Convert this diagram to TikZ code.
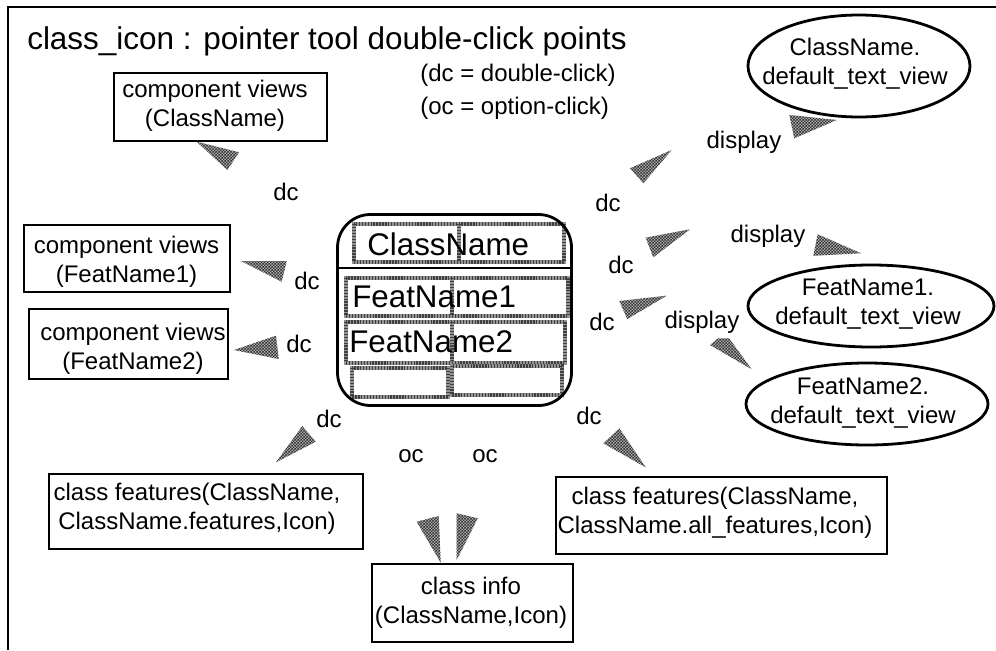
\documentclass[tikz,border=0pt]{standalone}
\usepackage{fontspec}
\setmainfont{Liberation Sans}
\usetikzlibrary{patterns,shapes.geometric}
\pgfdeclarepatternformonly{dither}{\pgfqpoint{0pt}{0pt}}{\pgfqpoint{2.2pt}{2.2pt}}{\pgfqpoint{2.2pt}{2.2pt}}{%
  \pgfpathrectangle{\pgfqpoint{0pt}{0pt}}{\pgfqpoint{1.1pt}{1.1pt}}%
  \pgfpathrectangle{\pgfqpoint{1.1pt}{1.1pt}}{\pgfqpoint{1.1pt}{1.1pt}}%
  \pgfusepath{fill}}
\tikzset{
  boxnode/.style={draw=black,line width=2.1pt,inner sep=0pt,outer sep=0pt},
  ovalnode/.style={draw=black,ellipse,line width=2.1pt,inner sep=0pt,outer sep=0pt},
  labeltext/.style={inner sep=0pt,font=\fontsize{18}{22}\selectfont,align=center},
  wedge/.style={preaction={fill=black!32},pattern=dither,pattern color=black!80,draw=none},
  dotbox/.style={draw=black!42,line width=2.3pt,postaction={draw=black!75,line width=2.3pt,dash pattern=on 1pt off 1.2pt}},
  icontext/.style={inner sep=0pt,anchor=west,font=\fontsize{23.5}{25}\selectfont},
}
\newcommand{\boxat}[5]{\node[boxnode,minimum width=#3*0.75pt-#1*0.75pt,minimum height=#4*0.75pt-#2*0.75pt] (#5) at ({(#1+#3)/2},{(#2+#4)/2}) {};}
\newcommand{\ovalat}[5]{\node[ovalnode,minimum width=#3*0.75pt-#1*0.75pt,minimum height=#4*0.75pt-#2*0.75pt] (#5) at ({(#1+#3)/2},{(#2+#4)/2}) {};}
\begin{document}
\begin{tikzpicture}[x=0.75pt,y=-0.75pt]
\useasboundingbox (0,0) rectangle (996,650);
\coordinate (fa) at (8,650); \coordinate (fb) at (8,7); \coordinate (fc) at (996,7);
\draw[line width=2.1pt] (fa) -- (fb) -- (fc);
\node[inner sep=0pt,anchor=west,font=\fontsize{23.6}{28}\selectfont] (title) at (27,41) {class\_icon : pointer tool double-click points};
\node[labeltext,anchor=west] (n1) at (420,75) {(dc = double-click)};
\node[labeltext,anchor=west] (n2) at (420,108) {(oc = option-click)};
\boxat{114}{73}{327}{141}{c0}
\boxat{24}{225}{230}{292}{c1}
\boxat{29}{309}{228}{379}{c2}
\boxat{49}{474}{363}{549}{f1}
\boxat{556}{477}{887}{554}{f2}
\boxat{372}{564}{573}{642}{info}
\ovalat{748}{15}{970}{117}{e0}
\ovalat{748}{265}{994}{347}{e1}
\ovalat{746}{363}{988}{445}{e2}
\node[labeltext] (c0t) at (215,105.5) {component views\\(ClassName)};
\node[labeltext] (c1t) at (126.5,261.5) {component views\\(FeatName1)};
\node[labeltext] (c2t) at (133,348.5) {component views\\(FeatName2)};
\node[labeltext] (f1t) at (197,508.5) {class features(ClassName,\\ClassName.features,Icon)};
\node[labeltext] (f2t) at (715,512.5) {class features(ClassName,\\ClassName.all\_features,Icon)};
\node[labeltext] (infot) at (471,602.5) {class info\\(ClassName,Icon)};
\node[labeltext] (e0t) at (855,64) {ClassName.\\default\_text\_view};
\node[labeltext] (e1t) at (868,304) {FeatName1.\\default\_text\_view};
\node[labeltext] (e2t) at (863,403) {FeatName2.\\default\_text\_view};
% icon
\draw[dotbox] (354,224) rectangle (564,262) (459,224) -- (459,262);
\draw[dotbox] (346,278) rectangle (568,316) (452,278) -- (452,316);
\draw[dotbox] (346,322) rectangle (565,363) (452,322) -- (452,363);
\draw[dotbox] (352,368) rectangle (448,397);
\draw[dotbox] (452,366) rectangle (562,395);
\node[draw=black,line width=2.1pt,rounded corners=33*0.75pt,minimum width=234*0.75pt,minimum height=191*0.75pt,inner sep=0pt,outer sep=0pt] (icon) at (454.5,310) {};
\coordinate (il) at (337,268); \coordinate (ir) at (572,268);
\draw[line width=2.1pt] (il) -- (ir);
\node[icontext] (t0) at (367,244) {ClassName};
\node[icontext] (t1) at (352,297) {FeatName1};
\node[icontext] (t2) at (349,342) {FeatName2};
% wedges
\fill[wedge] (789.3,115) -- (836.7,120) -- (794.3,138.3) -- cycle;
\fill[wedge] (671.7,150) -- (630,168.3) -- (643.3,183.3) -- cycle;
\fill[wedge] (690,229.3) -- (645.7,237.7) -- (653.3,257.3) -- cycle;
\fill[wedge] (817.7,234.3) -- (861,253.3) -- (813.3,255.7) -- cycle;
\fill[wedge] (666.7,295.7) -- (619.3,301) -- (627.3,319) -- cycle;
\fill[wedge] (751.7,369.3) -- (710,345) -- (718,338.3) -- (729,338.3) -- cycle;
\fill[wedge] (196.7,141.7) -- (239,152.3) -- (227.3,170) -- cycle;
\fill[wedge] (241,261) -- (286.7,261) -- (281.7,281.7) -- cycle;
\fill[wedge] (234,350) -- (276,335.7) -- (278.7,359) -- cycle;
\fill[wedge] (302.3,426) -- (315.7,441.7) -- (276,462.3) -- cycle;
\fill[wedge] (619.3,428.3) -- (603.3,443.3) -- (645.7,467.3) -- cycle;
\fill[wedge] (416.7,521.7) -- (438.7,516) -- (440.7,562.7) -- cycle;
\fill[wedge] (456.7,513.3) -- (477.7,518.3) -- (456.7,560) -- cycle;
% labels
\node[labeltext] (l1) at (744,142.5) {display};
\node[labeltext] (l2) at (768,236) {display};
\node[labeltext] (l3) at (702,322.5) {display};
\node[labeltext] (l4) at (608,203) {dc};
\node[labeltext] (l5) at (621,265) {dc};
\node[labeltext] (l6) at (602,322) {dc};
\node[labeltext] (l7) at (286,192) {dc};
\node[labeltext] (l8) at (307,281) {dc};
\node[labeltext] (l9) at (299,344) {dc};
\node[labeltext] (l10) at (329,419) {dc};
\node[labeltext] (l11) at (589,416) {dc};
\node[labeltext] (l12) at (411,456) {oc};
\node[labeltext] (l13) at (485,456) {oc};
\end{tikzpicture}
\end{document}
